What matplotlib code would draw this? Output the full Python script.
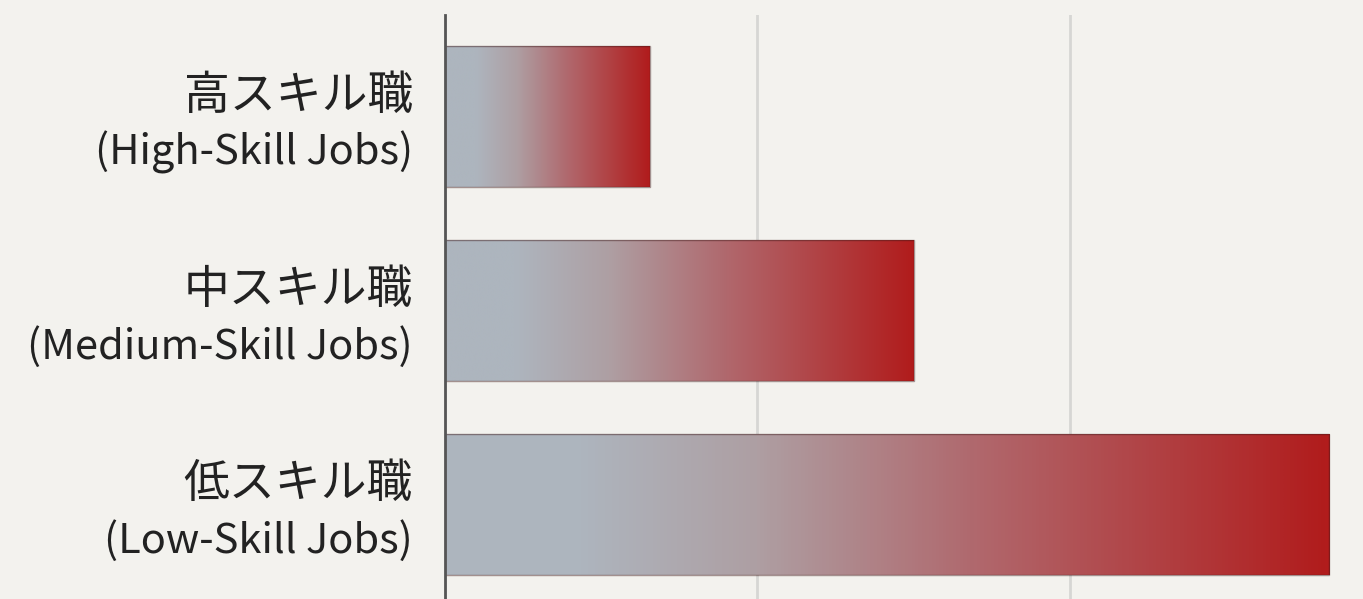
import numpy as np
import matplotlib
matplotlib.use("Agg")
import matplotlib.pyplot as plt
from matplotlib.colors import LinearSegmentedColormap

plt.rcParams['font.family'] = ['Noto Sans CJK JP', 'DejaVu Sans']

categories_jp = ["高スキル職", "中スキル職", "低スキル職"]
categories_en = ["(High-Skill Jobs)", "(Medium-Skill Jobs)", "(Low-Skill Jobs)"]
values = [6.55, 15.0, 28.3]

bg = "#f3f2ee"
fig = plt.figure(figsize=(13.63, 5.99), dpi=100, facecolor=bg)
ax = fig.add_axes([445/1363, (599-606)/599, (1363-445)/1363, 591/599])
ax.set_facecolor(bg)

cmap = LinearSegmentedColormap.from_list(
    "g", [(0.0, "#adb5be"), (0.15, "#adb5be"), (0.35, "#ae9fa3"),
          (0.6, "#b0686d"), (1.0, "#b11c1c")])

y = np.arange(len(values))
bars = ax.barh(y, values, height=0.727, color="none",
               edgecolor=(0.25, 0.1, 0.1, 0.45), linewidth=1.0, zorder=3)
grad = np.linspace(0, 1, 256).reshape(1, -1)
for b in bars:
    x0, yb = b.get_x(), b.get_y()
    w, h = b.get_width(), b.get_height()
    im = ax.imshow(grad, cmap=cmap, aspect="auto", extent=(x0, x0 + w, yb + h, yb),
                   zorder=2, interpolation="bicubic")
    im.set_clip_path(b)

ax.set_xlim(0, 29.38)
ax.set_ylim(2.523, -0.523)
ax.set_xticks([0, 10, 20])
ax.set_xticklabels([])
ax.tick_params(length=0)
ax.set_yticks(y)
ax.set_yticklabels([])
ax.grid(axis="x", color="#d6d6d4", linewidth=2, zorder=0)
ax.set_axisbelow(True)
for s in ["top", "right", "bottom"]:
    ax.spines[s].set_visible(False)
ax.spines["left"].set_color("#555555")
ax.spines["left"].set_linewidth(2)
ax.spines["left"].set_zorder(4)

for i, (jp, en) in enumerate(zip(categories_jp, categories_en)):
    ax.annotate(jp, xy=(0, i), xycoords="data", xytext=(-23, 15),
                textcoords="offset points", ha="right", va="center",
                fontsize=33, color="#222222")
    ax.annotate(en, xy=(0, i), xycoords="data", xytext=(-23, -26),
                textcoords="offset points", ha="right", va="center",
                fontsize=30, color="#222222")

fig.savefig("out.png", dpi=100, facecolor=bg)
